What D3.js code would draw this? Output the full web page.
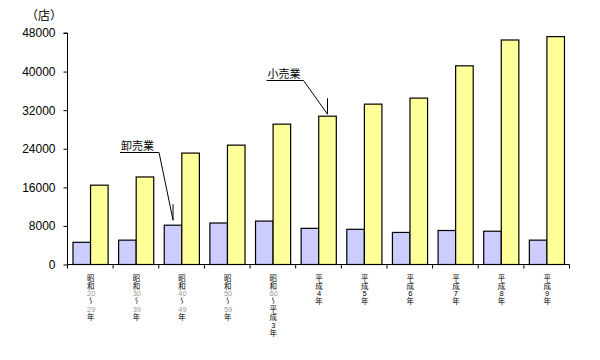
<!DOCTYPE html>
<html>
<head>
<meta charset="utf-8">
<script src="https://cdn.jsdelivr.net/npm/d3@7"></script>
<style>
  html, body { margin: 0; padding: 0; background: #fff; }
  #wrap { position: relative; width: 600px; height: 360px; }
  svg { display: block; }
  .xlabel {
    position: absolute;
    writing-mode: vertical-rl;
    font-family: 'Noto Sans CJK JP', sans-serif;
    font-size: 7.5px;
    line-height: 10px;
    width: 10px;
    letter-spacing: 0.5px;
    color: #000;
    white-space: nowrap;
  }
  .xlabel .num {
    text-combine-upright: all;
    font-family: 'Liberation Sans', Arial, sans-serif;
  }
  .xlabel .gray { color: #999; }
</style>
</head>
<body>
<div id="wrap"><svg id="chart" width="600" height="360"></svg></div>
<script>
// ---- data ----
const categories = [
  "昭和20〜29年", "昭和30〜39年", "昭和40〜49年", "昭和50〜59年", "昭和60〜平成3年",
  "平成4年", "平成5年", "平成6年", "平成7年", "平成8年", "平成9年"
];
const seriesNames = ["卸売業", "小売業"];
const wholesale = [4600, 5050, 8150, 8600, 9000, 7500, 7300, 6650, 7050, 6900, 5050];
const retail = [16450, 18150, 23100, 24750, 29100, 30750, 33250, 34500, 41200, 46550, 47250];
const yTicks = [0, 8000, 16000, 24000, 32000, 40000, 48000];
const unitLabel = "（店）";

// ---- layout ----
const svg = d3.select("#chart");
const mLeft = 67.5, mRight = 569.5, mTop = 33, mBottom = 264.5;
const jpFont = "'Noto Sans CJK JP', sans-serif";
const numFont = "'Liberation Sans', Arial, sans-serif";

const y = d3.scaleLinear().domain([0, 48000]).range([mBottom, mTop]);
const x0 = d3.scaleBand().domain(categories).range([mLeft, mRight]).padding(0);
const bw = x0.bandwidth();
const x1 = d3.scaleBand().domain(seriesNames).range([bw * 0.12, bw * 0.89]).padding(0);
const colors = { "卸売業": "#ccccff", "小売業": "#ffff99" };

const rows = categories.map((c, i) => ({ cat: c, vals: [
  { key: "卸売業", v: wholesale[i] },
  { key: "小売業", v: retail[i] }
]}));

// bars
const g = svg.append("g");
g.selectAll("g.grp").data(rows).join("g")
  .attr("class", "grp")
  .attr("transform", d => `translate(${x0(d.cat)},0)`)
  .selectAll("rect").data(d => d.vals).join("rect")
  .attr("x", d => x1(d.key))
  .attr("y", d => y(d.v))
  .attr("width", x1.bandwidth())
  .attr("height", d => y(0) - y(d.v))
  .attr("fill", d => colors[d.key])
  .attr("stroke", "#000")
  .attr("stroke-width", 1.2);

// y axis
const yAxis = d3.axisLeft(y).tickValues(yTicks).tickSize(4).tickPadding(8).tickFormat(d3.format("d"));
const ya = svg.append("g").attr("transform", `translate(${mLeft},0)`).call(yAxis);
ya.select(".domain").attr("stroke", "#000").attr("d", `M-4,${mTop}H0V${mBottom}`);
ya.selectAll(".tick line").attr("stroke", "#000");
ya.selectAll(".tick text").attr("font-family", numFont).attr("font-size", 12).attr("fill", "#000");

// x axis line + ticks at band boundaries
const xa = svg.append("g");
xa.append("line").attr("x1", mLeft).attr("x2", mRight).attr("y1", mBottom).attr("y2", mBottom)
  .attr("stroke", "#000");
const bounds = categories.map(c => x0(c)).concat([x0(categories[categories.length - 1]) + bw]);
xa.selectAll("line.tk").data(bounds).join("line").attr("class", "tk")
  .attr("x1", d => d).attr("x2", d => d).attr("y1", mBottom).attr("y2", mBottom + 4)
  .attr("stroke", "#000");

// vertical category labels (HTML vertical writing, digits set upright side by side)
const wrap = d3.select("#wrap");
const labelW = 10;
categories.forEach(c => {
  const tokens = c.match(/\d+|\D/g);
  const cx = x0(c) + bw / 2;
  const div = wrap.append("div")
    .attr("class", "xlabel")
    .style("left", (cx - labelW / 2) + "px")
    .style("top", "274px");
  let afterHeisei = false;
  tokens.forEach(t => {
    if (t === "成") afterHeisei = true;
    const isNum = /\d/.test(t);
    div.append("span")
      .attr("class", isNum ? ("num" + (afterHeisei ? "" : " gray")) : null)
      .text(t);
  });
});

// unit label
svg.append("text").attr("x", 44).attr("y", 20).attr("text-anchor", "middle")
  .attr("font-family", jpFont).attr("font-size", 12).text(unitLabel);

// annotations (anchored to bars via scales)
function annotate(catIdx, key, value, gapY, elbowDx, startDx, lineY, shaft) {
  const tx = x0(categories[catIdx]) + x1(key) + x1.bandwidth() / 2;
  const ty = y(value) - gapY;
  svg.append("path")
    .attr("d", `M${tx + startDx},${lineY}H${tx + elbowDx}L${tx},${ty}M${tx},${ty - shaft}V${ty}`)
    .attr("fill", "none").attr("stroke", "#000").attr("stroke-width", 1);
  svg.append("text").attr("x", tx + startDx + 1).attr("y", lineY - 3)
    .attr("font-family", jpFont).attr("font-size", 11).attr("fill", "#000").text(key);
}
annotate(2, "卸売業", wholesale[2], 5, -14, -53, 152.5, 16);
annotate(5, "小売業", retail[5], 2, -24, -61, 80.5, 16);
</script>
</body>
</html>
